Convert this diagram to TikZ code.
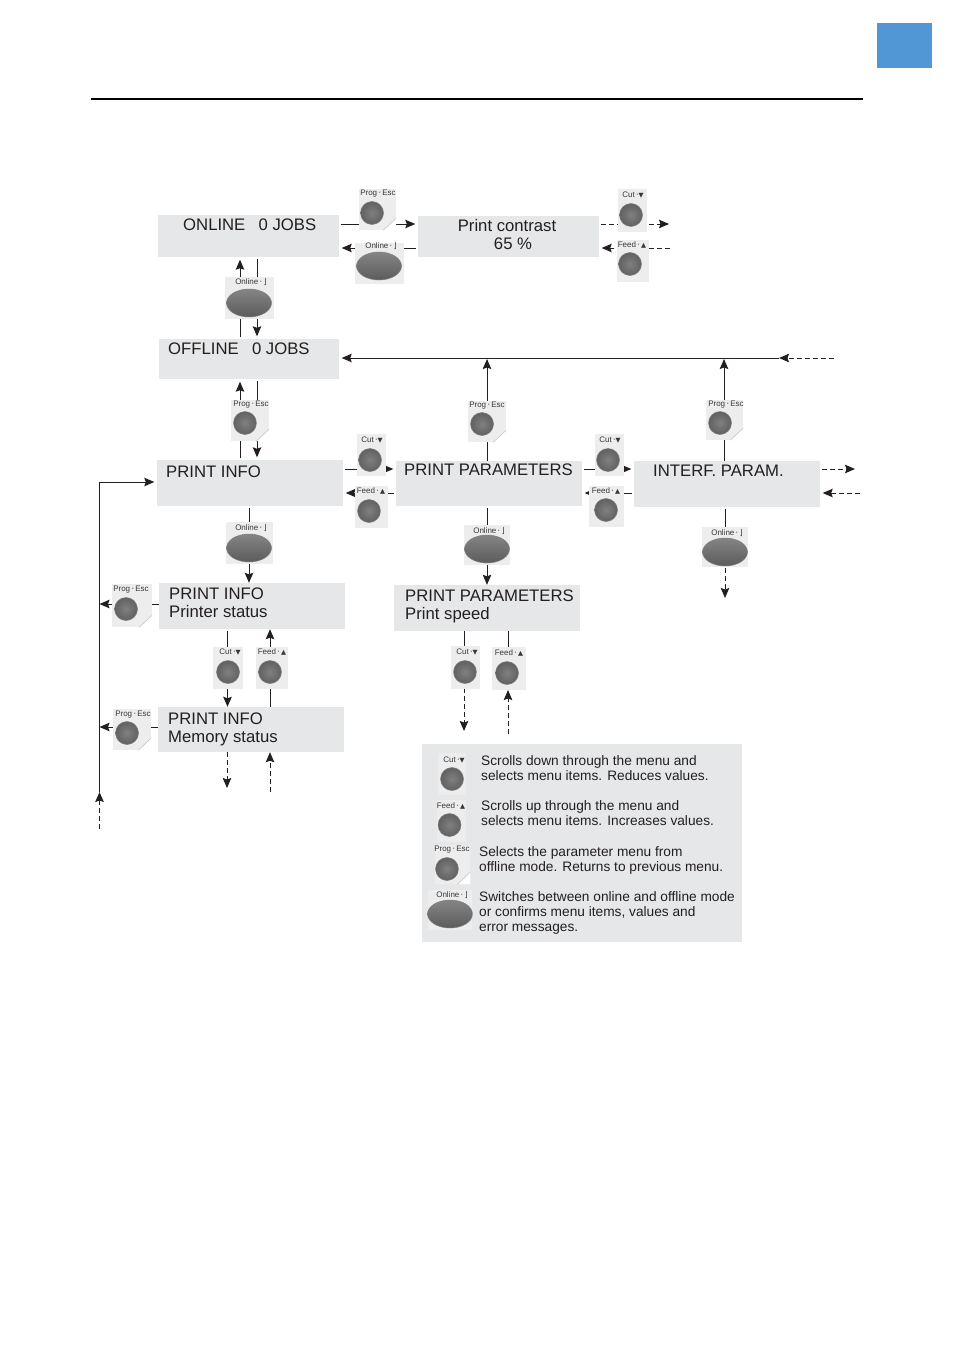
\documentclass[tikz,border=0pt]{standalone}
\usepackage{fontspec}
\setmainfont{Liberation Sans}
\newfontfamily\symfont{DejaVu Sans}
\usetikzlibrary{arrows.meta,fit,calc,shapes.geometric}
\definecolor{boxgrey}{HTML}{E6E7E8}
\definecolor{tilegrey}{HTML}{EDEDEE}
\definecolor{inkc}{HTML}{231F20}
\definecolor{tabblue}{HTML}{5197D5}
\tikzset{
  menubox/.style={fill=boxgrey,draw=none,inner sep=0pt},
  menutext/.style={inner sep=0pt,anchor=base west,text=inkc,font=\fontsize{16.7}{20}\selectfont},
  centertext/.style={menutext,anchor=base},
  legendtext/.style={inner sep=0pt,anchor=base west,text=inkc,font=\fontsize{13.7}{15}\selectfont},
  conn/.style={draw=inkc,line width=1pt,-{Stealth[length=10pt,width=8.5pt,inset=1.5pt]},shorten >=2.5pt,shorten <=2pt},
  plainconn/.style={draw=inkc,line width=1pt,shorten <=2pt},
  dashconn/.style={conn,dash pattern=on 5pt off 3pt},
  dashend/.style={draw=inkc,line width=1pt,dash pattern=on 5pt off 3pt,-{Stealth[length=10pt,width=8.5pt,inset=1.5pt]}},
  tile/.style={fill=tilegrey,draw=none,inner sep=0pt},
  keylabel/.style={inner sep=0pt,text=black!78,font=\fontsize{8}{9}\selectfont},
  roundknob/.style={circle,inner sep=0pt,minimum size=23pt,draw=black!50,line width=0.5pt,
    shade,inner color=black!50,outer color=black!62},
  longknob/.style={ellipse,inner sep=0pt,minimum width=45pt,minimum height=28pt,draw=black!50,line width=0.5pt,
    shade,top color=black!48,bottom color=black!64,middle color=black!56},
}
\newcommand{\lblProg}{Prog\,{\symfont·}\,Esc}
\newcommand{\lblCut}{Cut\,{\symfont·}{\symfont\fontsize{6.5}{7}\selectfont ▼}}
\newcommand{\lblFeed}{Feed\,{\symfont·}\,{\symfont\fontsize{6.5}{7}\selectfont ▲}}
\newcommand{\lblOnline}{Online\,{\symfont·}\,{\symfont ⌋}}
% name, corner, corner, label, label pos, knob style, knob pos
\newcommand{\keytile}[7]{%
  \node[tile,fit={(#2) (#3)}] (#1) {};
  \node[keylabel] (#1l) at (#5) {#4};
  \node[#6] (#1k) at (#7) {};
}
\newcommand{\progtile}[5]{%
  \node[tile,fit={(#2) (#3)}] (#1) {};
  \fill[white] ($(#1.south east)+(0,-12)$) -- (#1.south east) -- ($(#1.south east)+(-13,0)$) -- cycle;
  \draw[black!25,line width=0.5pt] ($(#1.south east)+(0,-12)$) -- ($(#1.south east)+(-13,0)$);
  \node[keylabel] (#1l) at (#4) {\lblProg};
  \node[roundknob] (#1k) at (#5) {};
}
\begin{document}
\begin{tikzpicture}[x=1pt,y=-1pt]
\useasboundingbox (0,0) rectangle (954,1351);
\fill[white] (0,0) rectangle (954,1351);
% page furniture
\fill[tabblue] (877,23) rectangle (932,68);
\draw[black,line width=2pt] (91,99) -- (863,99);

% menu boxes
\node[menubox,fit={(158,215) (339,257)}] (online) {};
\node[menubox,fit={(418,216) (599,257)}] (contrast) {};
\node[menubox,fit={(159,339) (339,379)}] (offline) {};
\node[menubox,fit={(157,460) (343,506)}] (pinfo) {};
\node[menubox,fit={(396,461) (582,506)}] (pparam) {};
\node[menubox,fit={(634,461) (820,507)}] (interf) {};
\node[menubox,fit={(159,583) (345,629)}] (pstatus) {};
\node[menubox,fit={(158,707) (344,752)}] (mstatus) {};
\node[menubox,fit={(394,585) (580,631)}] (pspeed) {};
\node[menubox,fit={(422,744) (742,942)}] (legend) {};

% menu texts
\node[menutext] (t1) at (183,230) {ONLINE\hspace{0.8em}0 JOBS};
\node[centertext] (t2) at (507,231) {Print contrast};
\node[centertext] (t3) at (513,249) {65 \%};
\node[menutext] (t4) at (168,354) {OFFLINE\hspace{0.8em}0 JOBS};
\node[menutext] (t5) at (166,477) {PRINT INFO};
\node[menutext] (t6) at (404,475) {PRINT PARAMETERS};
\node[menutext] (t7) at (653,476) {INTERF. PARAM.};
\node[menutext] (t8) at (169,599) {PRINT INFO};
\node[menutext] (t9) at (169,617) {Printer status};
\node[menutext] (t10) at (168,724) {PRINT INFO};
\node[menutext] (t11) at (168,742) {Memory status};
\node[menutext] (t12) at (405,601) {PRINT PARAMETERS};
\node[menutext] (t13) at (405,619) {Print speed};

% legend texts
\node[legendtext] (l1) at (481,765.5) {Scrolls down through the menu and};
\node[legendtext] (l2) at (481,780.5) {selects menu items. Reduces values.};
\node[legendtext] (l3) at (481,810.5) {Scrolls up through the menu and};
\node[legendtext] (l4) at (481,825.5) {selects menu items. Increases values.};
\node[legendtext] (l5) at (479,856.5) {Selects the parameter menu from};
\node[legendtext] (l6) at (479,871.5) {offline mode. Returns to previous menu.};
\node[legendtext] (l7) at (479,901.5) {Switches between online and offline mode};
\node[legendtext] (l8) at (479,916.5) {or confirms menu items, values and};
\node[legendtext] (l9) at (479,931.5) {error messages.};

% free ends
\coordinate (eA) at (669,224);
\coordinate (eB) at (670,248);
\coordinate (eC) at (834,358);
\coordinate (eD) at (779,358);
\coordinate (eE) at (855,469);
\coordinate (eF) at (860,493);
\coordinate (eG) at (725,598);
\coordinate (eH) at (99.5,482);
\coordinate (eI) at (99.5,792);
\coordinate (eJ) at (99.5,829);
\coordinate (eK) at (99.5,604);
\coordinate (eL) at (99.5,727);
\coordinate (eM) at (227,788);
\coordinate (eN) at (270,792);
\coordinate (eO) at (464,731);
\coordinate (eP) at (508,734);

% connectors
\draw[conn] (online.east |- 0,224) -- (contrast.west |- 0,224);
\draw[conn] (contrast.west |- 0,248) -- (online.east |- 0,248);
\draw[dashconn,shorten >=0pt] (contrast.east |- 0,224) -- (eA);
\draw[dashconn,shorten <=0pt] (eB) -- (contrast.east |- 0,248);
\draw[conn] (240,0 |- offline.north) -- (240,0 |- online.south);
\draw[conn] (257,0 |- online.south) -- (257,0 |- offline.north);
\draw[conn,shorten <=0pt] (eD) -- (offline.east |- eD);
\draw[dashend] (eC) -- (eD);
\draw[conn,shorten <=0pt,shorten >=0pt] (487,0 |- pparam.north) -- (487,359);
\draw[conn,shorten <=0pt,shorten >=0pt] (724,0 |- interf.north) -- (724,359);
\draw[conn] (240,0 |- pinfo.north) -- (240,0 |- offline.south);
\draw[conn] (257,0 |- offline.south) -- (257,0 |- pinfo.north);
\draw[conn] (pinfo.east |- 0,469) -- (pparam.west |- 0,469);
\draw[conn] (pparam.west |- 0,493) -- (pinfo.east |- 0,493);
\draw[conn] (pparam.east |- 0,469) -- (interf.west |- 0,469);
\draw[conn] (interf.west |- 0,493) -- (pparam.east |- 0,493);
\draw[dashconn,shorten >=0pt] (interf.east |- eE) -- (eE);
\draw[dashconn,shorten <=0pt] (eF) -- (interf.east |- eF);
\draw[conn,shorten >=0pt] (249,0 |- pinfo.south) -- (249,0 |- pstatus.north);
\draw[conn,shorten >=0pt] (487,0 |- pparam.south) -- (487,0 |- pspeed.north);
\draw[plainconn] (725,0 |- interf.south) -- (725,540);
\draw[dashend] (725,560) -- (eG);
\draw[conn,shorten <=0pt] (eI) -- (eH) -- (pinfo.west |- eH);
\draw[dashend] (eJ) -- (eI);
\draw[conn,shorten <=0pt,shorten >=0pt] (pstatus.west |- eK) -- (eK);
\draw[conn,shorten <=0pt,shorten >=0pt] (mstatus.west |- eL) -- (eL);
\draw[conn,shorten >=0pt] (227.5,0 |- pstatus.south) -- (227.5,0 |- mstatus.north);
\draw[conn,shorten >=0pt,shorten <=0pt] (270,0 |- mstatus.north) -- (270,0 |- pstatus.south);
\draw[dashend] (227,0 |- mstatus.south) -- (eM);
\draw[dashend] (eN) -- (270,0 |- mstatus.south);
\draw[plainconn,shorten <=0pt] (464,0 |- pspeed.south) -- (464,660);
\draw[dashend] (464,680) -- (eO);
\draw[plainconn,shorten <=0pt] (508,0 |- pspeed.south) -- (508,660);
\draw[dashend] (eP) -- (508,690);

% keys
\progtile{k1}{359,189}{396,230}{378,194}{372,213}
\keytile{k2}{355,243}{404,284}{\lblOnline}{381,246}{longknob}{379,266}
\keytile{k3}{618,189}{647,232}{\lblCut}{633,195}{roundknob}{631,215}
\keytile{k4}{617,240}{649,282}{\lblFeed}{632,245}{roundknob}{630,264}
\keytile{k5}{225,277}{274,319}{\lblOnline}{251,282}{longknob}{249,303}
\progtile{k6}{231,400}{269,441}{251,405}{245,423}
\progtile{k7}{468,401}{506,442}{487,406}{482,424}
\progtile{k8}{706,400}{743,440}{726,405}{720,423}
\keytile{k9}{357,434}{386,476}{\lblCut}{372,440}{roundknob}{370,460}
\keytile{k10}{355,486}{388,528}{\lblFeed}{371,491}{roundknob}{369,511}
\keytile{k11}{595,434}{624,476}{\lblCut}{610,440}{roundknob}{608,460}
\keytile{k12}{589,486}{624,527}{\lblFeed}{606,491}{roundknob}{606,510}
\keytile{k13}{226,522}{273,564}{\lblOnline}{251,528}{longknob}{249,548}
\keytile{k14}{464,525}{510,565}{\lblOnline}{489,531}{longknob}{487,549}
\keytile{k15}{702,527}{748,567}{\lblOnline}{727,533}{longknob}{725,552}
\progtile{k16}{112,584}{152,627}{131,590}{126,609}
\keytile{k17}{213,647}{243,689}{\lblCut}{230,652}{roundknob}{228,672}
\keytile{k18}{256,647}{288,689}{\lblFeed}{272,652}{roundknob}{270,672}
\progtile{k19}{113,709}{151,750}{133,715}{127,733}
\keytile{k20}{451,646}{480,689}{\lblCut}{467,652}{roundknob}{465,672}
\keytile{k21}{492,647}{526,690}{\lblFeed}{509,653}{roundknob}{507,673}
% legend keys
\keytile{k22}{438,753}{466,795}{\lblCut}{454,760}{roundknob}{452,779}
\keytile{k23}{437,800}{466,842}{\lblFeed}{451,806}{roundknob}{449.5,825}
\progtile{k24}{435,845}{470,884}{452,850}{447,869}
\keytile{k25}{428,890}{472,930}{\lblOnline}{452,895}{longknob}{450,914}
\end{tikzpicture}
\end{document}
